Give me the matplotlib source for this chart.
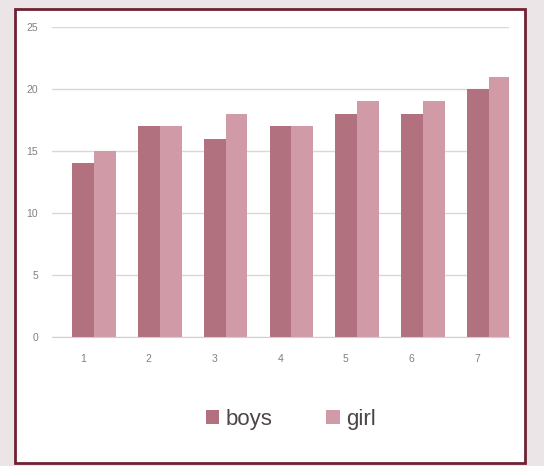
import matplotlib
matplotlib.use("Agg")
import matplotlib.pyplot as plt
from matplotlib.patches import Rectangle
import numpy as np

plt.rcParams["font.family"] = ["Liberation Sans", "DejaVu Sans"]

categories = ["1", "2", "3", "4", "5", "6", "7"]
boys = [14, 17, 16, 17, 18, 18, 20]
girl = [15, 17, 18, 17, 19, 19, 21]
yticks = [0, 5, 10, 15, 20, 25]

fig = plt.figure(figsize=(5.44, 4.66), dpi=100)
fig.patch.set_facecolor("#ebe5e7")

# white chart frame with dark border
frame = Rectangle((15 / 544, 1 - 463 / 466), (525 - 15) / 544, (463 - 9) / 466,
                  transform=fig.transFigure, facecolor="white",
                  edgecolor="#6e2232", linewidth=2.0, zorder=-5)
fig.patches.append(frame)

ax = fig.add_axes([52 / 544, 129 / 466, (509 - 52) / 544, (337 - 27) / 466])
ax.set_facecolor("none")

x = np.arange(1, len(categories) + 1)
w = 0.33
ax.bar(x + 0.17 - w / 2, boys, width=w, color="#b1717f", label="boys", zorder=2)
ax.bar(x + 0.17 + w / 2, girl, width=w, color="#d09ba6", label="girl", zorder=2)

ax.set_xlim(0.53, 7.48)
ax.set_ylim(0, 25)
ax.set_yticks(yticks)
ax.set_xticks(x)
ax.set_xticklabels(categories)
ax.yaxis.grid(True, color="#d8d8d8", linewidth=1.0)
ax.set_axisbelow(True)
for s in ["top", "right", "left"]:
    ax.spines[s].set_visible(False)
ax.spines["bottom"].set_color("#d0d0d0")
ax.tick_params(axis="both", length=0, labelsize=7.5, labelcolor="#808080")
ax.tick_params(axis="x", pad=12)
ax.tick_params(axis="y", pad=10)

leg = fig.legend(loc="center", bbox_to_anchor=(291 / 544, 1 - 419 / 466), ncol=2,
                 frameon=False, fontsize=16, handlelength=0.6, handleheight=0.6,
                 handletextpad=0.3, columnspacing=2.4)
for t in leg.get_texts():
    t.set_color("#4f4549")

fig.savefig("out.png", dpi=100, facecolor=fig.get_facecolor())
